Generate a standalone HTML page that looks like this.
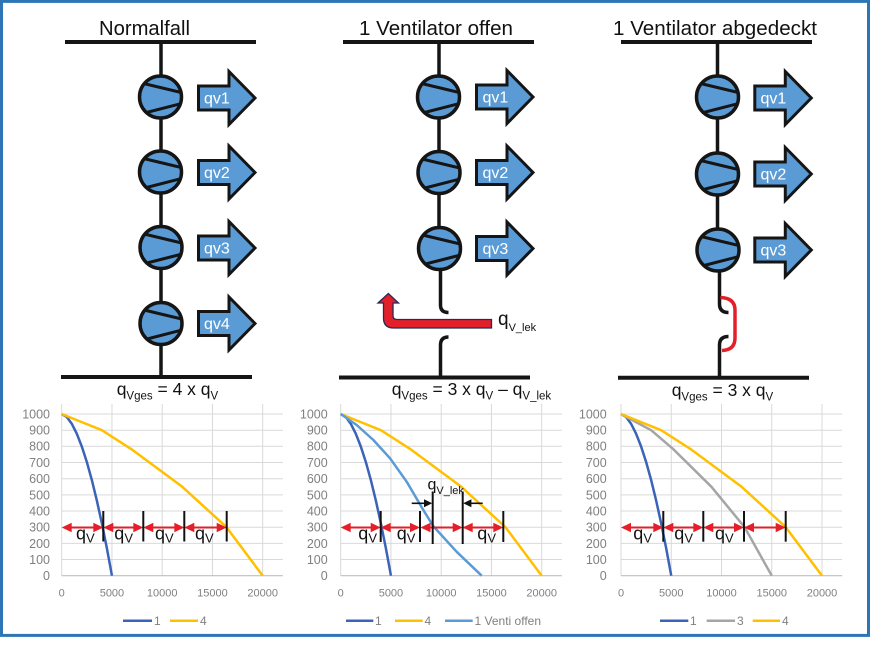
<!DOCTYPE html>
<html><head><meta charset="utf-8"><style>
html,body{margin:0;padding:0;background:#fff;}
svg{display:block;font-family:"Liberation Sans",Arial,sans-serif;}
</style></head><body>
<svg width="872" height="646" viewBox="0 0 872 646" xmlns="http://www.w3.org/2000/svg">
<defs>
<clipPath id="fc"><circle cx="0" cy="0" r="21"/></clipPath>
<g id="fan">
<circle cx="0" cy="0" r="21" fill="#5b9bd5"/>
<g clip-path="url(#fc)" stroke="#151515" stroke-width="3" stroke-linecap="round">
<line x1="-19" y1="-14" x2="23" y2="-4"/>
<line x1="-16" y1="16" x2="23" y2="6"/>
</g>
<circle cx="0" cy="0" r="21" fill="none" stroke="#151515" stroke-width="3.5"/>
</g>
<path id="arr" d="M1.5,-12 H32 V-26.5 L58,0 L32,26.5 V12 H1.5 Z" fill="#5b9bd5" stroke="#151515" stroke-width="3" stroke-linejoin="miter"/>
</defs>
<rect x="0" y="0" width="872" height="646" fill="#fff"/>
<rect x="1.5" y="1.4" width="867" height="634" fill="none" stroke="#2e75b6" stroke-width="3"/>

<!-- Titles -->
<g font-size="20" fill="#111">
<text x="99" y="35" textLength="91" lengthAdjust="spacingAndGlyphs">Normalfall</text>
<text x="359" y="35" textLength="154" lengthAdjust="spacingAndGlyphs">1 Ventilator offen</text>
<text x="613" y="35" textLength="204" lengthAdjust="spacingAndGlyphs">1 Ventilator abgedeckt</text>
</g>

<!-- Left diagram -->
<g stroke="#151515" stroke-width="4" fill="none">
<line x1="65" y1="42" x2="256" y2="42"/>
<line x1="61" y1="377" x2="252" y2="377"/>
<line x1="343" y1="42" x2="534" y2="42"/>
<line x1="339" y1="377.5" x2="530" y2="377.5"/>
<line x1="621" y1="42" x2="812" y2="42"/>
<line x1="618" y1="377.7" x2="809" y2="377.7"/>
</g>
<g stroke="#151515" stroke-width="3.5" fill="none">
<line x1="161" y1="42" x2="161" y2="377"/>
<path d="M439,42 V250"/>
<path d="M440.5,250 V305 Q440.5,312.5 448.5,312.5"/>
<path d="M448.5,337 Q440.5,337 440.5,345 V377"/>
<path d="M717.5,42 V250"/>
<path d="M719.5,250 V304 Q719.5,312.5 728.5,312.5"/>
<path d="M728.5,336.5 Q719.5,336.5 719.5,345 V378"/>
</g>
<path d="M720.5,297.5 Q735,298 735,310 V338 Q735,350 722,350.5" fill="none" stroke="#e3202a" stroke-width="3.5"/>

<use href="#fan" x="160.5" y="97"/>
<use href="#fan" x="160.5" y="172"/>
<use href="#fan" x="161" y="247.5"/>
<use href="#fan" x="161" y="323.5"/>
<use href="#fan" x="438.5" y="97"/>
<use href="#fan" x="439" y="172.5"/>
<use href="#fan" x="439.5" y="248.5"/>
<use href="#fan" x="717.5" y="97"/>
<use href="#fan" x="717.5" y="174"/>
<use href="#fan" x="718" y="250"/>

<use href="#arr" x="197" y="98"/>
<use href="#arr" x="197" y="172.5"/>
<use href="#arr" x="197" y="248"/>
<use href="#arr" x="197" y="323.5"/>
<use href="#arr" x="475" y="97"/>
<use href="#arr" x="475" y="172.5"/>
<use href="#arr" x="475" y="248.5"/>
<use href="#arr" x="753.3" y="98"/>
<use href="#arr" x="753.3" y="174"/>
<use href="#arr" x="753.3" y="250"/>

<g font-size="16" fill="#fff">
<text x="204" y="103.5">qv1</text>
<text x="204" y="178">qv2</text>
<text x="204" y="253.5">qv3</text>
<text x="204" y="329">qv4</text>
<text x="482.5" y="102.5">qv1</text>
<text x="482.5" y="178">qv2</text>
<text x="482.5" y="254">qv3</text>
<text x="760.5" y="103.5">qv1</text>
<text x="760.5" y="179.5">qv2</text>
<text x="760.5" y="255.5">qv3</text>
</g>

<!-- Leak arrow -->
<path d="M491.5,319.5 H397 Q393,319.5 393,315.5 V303 H398.5 L388.3,293.5 L378,303 H383.5 V318 Q383.5,328 393.5,328 H491.5 Z" fill="#e3202a" stroke="#1f2d5c" stroke-width="1.3" stroke-linejoin="miter"/>
<text x="498" y="325" font-size="19" fill="#111">q<tspan font-size="11" dy="6">V_lek</tspan></text>

<!-- Formulas -->
<g fill="#111" font-size="17.5">
<text x="116.7" y="395">q<tspan font-size="11.5" dy="4.5">Vges</tspan><tspan dy="-4.5"> = 4 x q</tspan><tspan font-size="11.5" dy="4.5">V</tspan></text>
<text x="391.7" y="395">q<tspan font-size="11.5" dy="4.5">Vges</tspan><tspan dy="-4.5"> = 3 x q</tspan><tspan font-size="11.5" dy="4.5">V</tspan><tspan dy="-4.5"> – q</tspan><tspan font-size="11.5" dy="4.5">V_lek</tspan></text>
<text x="671.7" y="396">q<tspan font-size="11.5" dy="4.5">Vges</tspan><tspan dy="-4.5"> = 3 x q</tspan><tspan font-size="11.5" dy="4.5">V</tspan></text>
</g>

<!-- Chart frames -->
<g id="c1" transform="translate(61.7,0)">
<g stroke="#d9d9d9" stroke-width="1">
<line x1="0" x2="221.2" y1="559.5" y2="559.5"/><line x1="0" x2="221.2" y1="543.4" y2="543.4"/>
<line x1="0" x2="221.2" y1="527.2" y2="527.2"/><line x1="0" x2="221.2" y1="511" y2="511"/>
<line x1="0" x2="221.2" y1="494.9" y2="494.9"/><line x1="0" x2="221.2" y1="478.7" y2="478.7"/>
<line x1="0" x2="221.2" y1="462.5" y2="462.5"/><line x1="0" x2="221.2" y1="446.3" y2="446.3"/>
<line x1="0" x2="221.2" y1="430.2" y2="430.2"/><line x1="0" x2="221.2" y1="414" y2="414"/>
<line x1="0" x2="0" y1="404" y2="575.7"/><line x1="50.25" x2="50.25" y1="404" y2="575.7"/>
<line x1="100.5" x2="100.5" y1="404" y2="575.7"/><line x1="150.75" x2="150.75" y1="404" y2="575.7"/>
<line x1="201" x2="201" y1="404" y2="575.7"/>
</g>
<line x1="0" x2="221.2" y1="575.7" y2="575.7" stroke="#bfbfbf" stroke-width="1.2"/>
<g font-size="12.5" fill="#808080" text-anchor="end">
<text x="-11.7" y="418.4">1000</text><text x="-11.7" y="434.6">900</text><text x="-11.7" y="450.7">800</text>
<text x="-11.7" y="466.9">700</text><text x="-11.7" y="483.1">600</text><text x="-11.7" y="499.3">500</text>
<text x="-11.7" y="515.4">400</text><text x="-11.7" y="531.6">300</text><text x="-11.7" y="547.8">200</text>
<text x="-11.7" y="563.9">100</text><text x="-11.7" y="580.1">0</text>
</g>
<g font-size="11" fill="#808080" text-anchor="middle">
<text x="0" y="596.5">0</text><text x="50.25" y="596.5">5000</text><text x="100.5" y="596.5">10000</text>
<text x="150.75" y="596.5">15000</text><text x="201" y="596.5">20000</text>
</g>
<g fill="none" stroke-width="2.5" stroke-linejoin="round">
<polyline stroke="#3b63b8" points="0,414 5.03,416.9 10.05,423.7 15.08,433.7 20.1,446.5 25.13,462 30.15,480.1 35.18,500.7 40.2,523.5 45.23,548.5 50.25,575.7"/>
<polyline stroke="#ffc000" points="0,414 20.1,422.1 40.2,430.2 70.35,449.6 120.6,486.8 164.8,527.2 201,575.7"/>
</g>
</g>

<g transform="translate(340.7,0)">
<g stroke="#d9d9d9" stroke-width="1">
<line x1="0" x2="221.2" y1="559.5" y2="559.5"/><line x1="0" x2="221.2" y1="543.4" y2="543.4"/>
<line x1="0" x2="221.2" y1="527.2" y2="527.2"/><line x1="0" x2="221.2" y1="511" y2="511"/>
<line x1="0" x2="221.2" y1="494.9" y2="494.9"/><line x1="0" x2="221.2" y1="478.7" y2="478.7"/>
<line x1="0" x2="221.2" y1="462.5" y2="462.5"/><line x1="0" x2="221.2" y1="446.3" y2="446.3"/>
<line x1="0" x2="221.2" y1="430.2" y2="430.2"/><line x1="0" x2="221.2" y1="414" y2="414"/>
<line x1="0" x2="0" y1="404" y2="575.7"/><line x1="50.25" x2="50.25" y1="404" y2="575.7"/>
<line x1="100.5" x2="100.5" y1="404" y2="575.7"/><line x1="150.75" x2="150.75" y1="404" y2="575.7"/>
<line x1="201" x2="201" y1="404" y2="575.7"/>
</g>
<line x1="0" x2="221.2" y1="575.7" y2="575.7" stroke="#bfbfbf" stroke-width="1.2"/>
<g font-size="12.5" fill="#808080" text-anchor="end">
<text x="-13" y="418.4">1000</text><text x="-13" y="434.6">900</text><text x="-13" y="450.7">800</text>
<text x="-13" y="466.9">700</text><text x="-13" y="483.1">600</text><text x="-13" y="499.3">500</text>
<text x="-13" y="515.4">400</text><text x="-13" y="531.6">300</text><text x="-13" y="547.8">200</text>
<text x="-13" y="563.9">100</text><text x="-13" y="580.1">0</text>
</g>
<g font-size="11" fill="#808080" text-anchor="middle">
<text x="0" y="596.5">0</text><text x="50.25" y="596.5">5000</text><text x="100.5" y="596.5">10000</text>
<text x="150.75" y="596.5">15000</text><text x="201" y="596.5">20000</text>
</g>
<g fill="none" stroke-width="2.5" stroke-linejoin="round">
<polyline stroke="#3b63b8" points="0,414 5.03,416.9 10.05,423.7 15.08,433.7 20.1,446.5 25.13,462 30.15,480.1 35.18,500.7 40.2,523.5 45.23,548.5 50.25,575.7"/>
<polyline stroke="#ffc000" points="0,414 20.1,422.1 40.2,430.2 70.35,449.6 120.6,486.8 164.8,527.2 201,575.7"/>
<polyline stroke="#5b9bd5" points="0,414 15.98,425 32.66,440 49.35,458.3 66.03,481.8 82.61,510 92.56,526.1 115.98,551.8 141,575.7"/>
</g>
</g>

<g transform="translate(621,0)">
<g stroke="#d9d9d9" stroke-width="1">
<line x1="0" x2="221.2" y1="559.5" y2="559.5"/><line x1="0" x2="221.2" y1="543.4" y2="543.4"/>
<line x1="0" x2="221.2" y1="527.2" y2="527.2"/><line x1="0" x2="221.2" y1="511" y2="511"/>
<line x1="0" x2="221.2" y1="494.9" y2="494.9"/><line x1="0" x2="221.2" y1="478.7" y2="478.7"/>
<line x1="0" x2="221.2" y1="462.5" y2="462.5"/><line x1="0" x2="221.2" y1="446.3" y2="446.3"/>
<line x1="0" x2="221.2" y1="430.2" y2="430.2"/><line x1="0" x2="221.2" y1="414" y2="414"/>
<line x1="0" x2="0" y1="404" y2="575.7"/><line x1="50.25" x2="50.25" y1="404" y2="575.7"/>
<line x1="100.5" x2="100.5" y1="404" y2="575.7"/><line x1="150.75" x2="150.75" y1="404" y2="575.7"/>
<line x1="201" x2="201" y1="404" y2="575.7"/>
</g>
<line x1="0" x2="221.2" y1="575.7" y2="575.7" stroke="#bfbfbf" stroke-width="1.2"/>
<g font-size="12.5" fill="#808080" text-anchor="end">
<text x="-14.3" y="418.4">1000</text><text x="-14.3" y="434.6">900</text><text x="-14.3" y="450.7">800</text>
<text x="-14.3" y="466.9">700</text><text x="-14.3" y="483.1">600</text><text x="-14.3" y="499.3">500</text>
<text x="-14.3" y="515.4">400</text><text x="-14.3" y="531.6">300</text><text x="-14.3" y="547.8">200</text>
<text x="-14.3" y="563.9">100</text><text x="-14.3" y="580.1">0</text>
</g>
<g font-size="11" fill="#808080" text-anchor="middle">
<text x="0" y="596.5">0</text><text x="50.25" y="596.5">5000</text><text x="100.5" y="596.5">10000</text>
<text x="150.75" y="596.5">15000</text><text x="201" y="596.5">20000</text>
</g>
<g fill="none" stroke-width="2.5" stroke-linejoin="round">
<polyline stroke="#3b63b8" points="0,414 5.03,416.9 10.05,423.7 15.08,433.7 20.1,446.5 25.13,462 30.15,480.1 35.18,500.7 40.2,523.5 45.23,548.5 50.25,575.7"/>
<polyline stroke="#a5a5a5" points="0,414 15.08,422.1 30.15,430.2 52.76,449.6 90.45,486.8 123.6,527.2 150.75,575.7"/>
<polyline stroke="#ffc000" points="0,414 20.1,422.1 40.2,430.2 70.35,449.6 120.6,486.8 164.8,527.2 201,575.7"/>
</g>
</g>

<!-- Legends -->
<g stroke-width="2.5">
<line x1="123" y1="620.7" x2="152" y2="620.7" stroke="#3b63b8"/>
<line x1="170" y1="620.7" x2="198" y2="620.7" stroke="#ffc000"/>
<line x1="346" y1="620.7" x2="373.3" y2="620.7" stroke="#3b63b8"/>
<line x1="395" y1="620.7" x2="422.7" y2="620.7" stroke="#ffc000"/>
<line x1="445" y1="620.7" x2="472.7" y2="620.7" stroke="#5b9bd5"/>
<line x1="660" y1="620.7" x2="688.3" y2="620.7" stroke="#3b63b8"/>
<line x1="706.7" y1="620.7" x2="735" y2="620.7" stroke="#a5a5a5"/>
<line x1="752.7" y1="620.7" x2="780" y2="620.7" stroke="#ffc000"/>
</g>
<g font-size="12" fill="#808080">
<text x="154" y="625">1</text><text x="200" y="625">4</text>
<text x="375" y="625">1</text><text x="424.5" y="625">4</text><text x="474.5" y="625">1 Venti offen</text>
<text x="690" y="625">1</text><text x="737" y="625">3</text><text x="782" y="625">4</text>
</g>

<!-- Red double arrows -->
<g stroke="#e3202a" stroke-width="2">
<line x1="64" y1="527.5" x2="101" y2="527.5"/><line x1="105" y1="527.5" x2="141" y2="527.5"/>
<line x1="145" y1="527.5" x2="182" y2="527.5"/><line x1="186" y1="527.5" x2="224" y2="527.5"/>
<line x1="343" y1="527.5" x2="378" y2="527.5"/><line x1="382" y1="527.5" x2="418" y2="527.5"/>
<line x1="422" y1="527.5" x2="460" y2="527.5"/><line x1="464" y1="527.5" x2="501" y2="527.5"/>
<line x1="623" y1="527.5" x2="661" y2="527.5"/><line x1="665" y1="527.5" x2="701" y2="527.5"/>
<line x1="705" y1="527.5" x2="742" y2="527.5"/><line x1="746" y1="527.5" x2="783" y2="527.5"/>
</g>
<g fill="#e3202a">
<polygon points="61.7,527.5 71.7,522.8 71.7,532.2"/><polygon points="103.3,527.5 93.3,522.8 93.3,532.2"/>
<polygon points="103.3,527.5 113.3,522.8 113.3,532.2"/><polygon points="143.3,527.5 133.3,522.8 133.3,532.2"/>
<polygon points="143.3,527.5 153.3,522.8 153.3,532.2"/><polygon points="184.3,527.5 174.3,522.8 174.3,532.2"/>
<polygon points="184.3,527.5 194.3,522.8 194.3,532.2"/><polygon points="226.7,527.5 216.7,522.8 216.7,532.2"/>
<polygon points="340.7,527.5 350.7,522.8 350.7,532.2"/><polygon points="380.7,527.5 370.7,522.8 370.7,532.2"/>
<polygon points="380.7,527.5 390.7,522.8 390.7,532.2"/><polygon points="420,527.5 410,522.8 410,532.2"/>
<polygon points="420.5,527.5 430.5,522.8 430.5,532.2"/><polygon points="462.7,527.5 452.7,522.8 452.7,532.2"/>
<polygon points="462.7,527.5 472.7,522.8 472.7,532.2"/><polygon points="503.3,527.5 493.3,522.8 493.3,532.2"/>
<polygon points="621,527.5 631,522.8 631,532.2"/><polygon points="663.3,527.5 653.3,522.8 653.3,532.2"/>
<polygon points="663.3,527.5 673.3,522.8 673.3,532.2"/><polygon points="703.3,527.5 693.3,522.8 693.3,532.2"/>
<polygon points="703.3,527.5 713.3,522.8 713.3,532.2"/><polygon points="744,527.5 734,522.8 734,532.2"/>
<polygon points="744,527.5 754,522.8 754,532.2"/><polygon points="785.7,527.5 775.7,522.8 775.7,532.2"/>
</g>

<!-- Black ticks -->
<g stroke="#111" stroke-width="2">
<line x1="103.3" y1="511" x2="103.3" y2="541.5"/><line x1="143.3" y1="511" x2="143.3" y2="541.5"/>
<line x1="184.3" y1="511" x2="184.3" y2="541.5"/><line x1="226.7" y1="511" x2="226.7" y2="541.5"/>
<line x1="380.7" y1="511" x2="380.7" y2="542"/><line x1="420" y1="511" x2="420" y2="542"/>
<line x1="432.7" y1="491.5" x2="432.7" y2="544"/><line x1="462.7" y1="491.5" x2="462.7" y2="544"/>
<line x1="503.3" y1="511" x2="503.3" y2="542"/>
<line x1="663.3" y1="511" x2="663.3" y2="541.7"/><line x1="703.3" y1="511" x2="703.3" y2="541.7"/>
<line x1="744" y1="511" x2="744" y2="541.7"/><line x1="785.7" y1="511" x2="785.7" y2="541.7"/>
</g>
<!-- Leak arrows in chart -->
<g stroke="#111" stroke-width="1.6">
<line x1="411.7" y1="503.3" x2="426" y2="503.3"/>
<line x1="469" y1="503.3" x2="482.7" y2="503.3"/>
</g>
<g fill="#111">
<polygon points="432.2,503.3 424,499.3 424,507.3"/>
<polygon points="463.2,503.3 471.4,499.3 471.4,507.3"/>
</g>

<!-- qV labels -->
<g fill="#111" font-size="18">
<text x="76" y="539.3">q<tspan font-size="13" dy="3.4">V</tspan></text>
<text x="114.3" y="539.3">q<tspan font-size="13" dy="3.4">V</tspan></text>
<text x="155" y="539.3">q<tspan font-size="13" dy="3.4">V</tspan></text>
<text x="195" y="539.3">q<tspan font-size="13" dy="3.4">V</tspan></text>
<text x="358.3" y="539.3">q<tspan font-size="13" dy="3.4">V</tspan></text>
<text x="396.7" y="539.3">q<tspan font-size="13" dy="3.4">V</tspan></text>
<text x="477.3" y="539.3">q<tspan font-size="13" dy="3.4">V</tspan></text>
<text x="633.3" y="539.3">q<tspan font-size="13" dy="3.4">V</tspan></text>
<text x="674.3" y="539.3">q<tspan font-size="13" dy="3.4">V</tspan></text>
<text x="715" y="539.3">q<tspan font-size="13" dy="3.4">V</tspan></text>
<text x="427.5" y="489.5" font-size="16">q<tspan font-size="11" dy="4.5">V_lek</tspan></text>
</g>
</svg>
</body></html>
